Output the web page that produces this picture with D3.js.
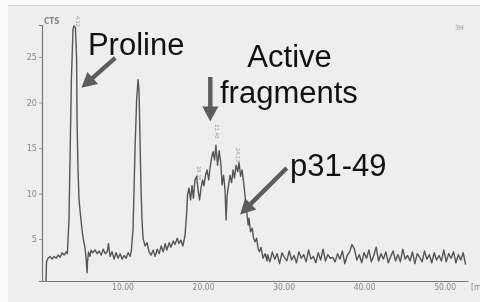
<!DOCTYPE html>
<html>
<head>
<meta charset="utf-8">
<script src="https://cdn.jsdelivr.net/npm/d3@7"></script>
<style>
  body { margin: 0; background: #fafafa; }
  svg { display: block; }
</style>
</head>
<body>
<div id="viz"><svg width="480" height="302"></svg></div>
<script>
// chromatogram trace: [time (min), counts]
const trace = [
  [0.5, 0.4], [0.56, 2.5], [0.75, 2.9], [1.0, 3.1], [1.25, 2.8], [1.5, 3.1], [1.75, 2.9],
  [2.0, 3.25], [2.25, 3.0], [2.5, 3.5], [2.75, 3.25], [3.0, 3.6], [3.15, 3.4],
  [3.35, 7.1], [3.5, 14.8], [3.65, 22.5], [3.85, 28.0], [3.97, 28.4], [4.15, 28.2],
  [4.3, 24.7], [4.35, 18.1], [4.47, 12.6], [4.6, 9.3], [4.78, 7.65], [4.97, 6.0],
  [5.15, 4.9], [5.35, 4.0], [5.47, 2.9], [5.6, 1.3], [5.65, 2.5], [5.78, 3.6],
  [5.96, 3.1], [6.1, 3.8], [6.3, 3.5], [6.6, 3.8], [6.85, 3.4], [7.1, 3.7], [7.35, 3.25],
  [7.6, 3.9], [7.85, 3.4], [8.1, 3.6], [8.25, 4.5], [8.45, 3.1], [8.7, 3.6], [8.95, 2.8],
  [9.2, 3.5], [9.45, 2.9], [9.7, 3.4], [9.95, 2.8], [10.2, 3.2], [10.45, 2.9], [10.7, 3.5],
  [10.95, 3.1], [11.1, 3.8], [11.3, 6.0], [11.43, 10.4], [11.55, 14.8], [11.75, 20.3],
  [11.93, 22.5], [12.05, 21.3], [12.17, 15.9], [12.3, 10.4], [12.42, 7.1], [12.55, 5.1],
  [12.8, 4.25], [13.05, 4.6], [13.3, 3.6], [13.55, 3.25], [13.8, 3.8], [14.05, 3.1],
  [14.3, 3.9], [14.55, 3.4], [14.8, 4.25], [15.05, 3.6], [15.3, 4.5], [15.5, 3.8],
  [15.8, 4.6], [16.0, 4.1], [16.3, 4.8], [16.5, 4.4], [16.8, 5.1], [17.0, 4.5],
  [17.25, 4.9], [17.5, 4.25], [17.75, 5.35], [17.95, 7.65], [18.07, 9.85], [18.25, 10.6],
  [18.45, 9.3], [18.63, 10.9], [18.8, 9.5], [19.0, 11.5], [19.2, 11.9], [19.38, 10.4],
  [19.57, 9.3], [19.75, 10.6], [19.94, 11.5], [20.1, 10.85], [20.3, 12.0], [20.5, 12.6],
  [20.7, 11.5], [20.87, 12.8], [21.05, 13.9], [21.24, 14.6], [21.43, 13.7], [21.6, 15.3],
  [21.8, 13.1], [22.0, 14.7], [22.2, 13.4], [22.36, 10.95], [22.55, 12.0], [22.73, 10.4],
  [22.86, 7.1], [22.98, 9.7], [23.17, 10.95], [23.35, 12.0], [23.54, 11.2], [23.73, 12.6],
  [23.9, 11.7], [24.1, 13.1], [24.3, 12.4], [24.47, 13.4], [24.66, 11.9], [24.84, 12.6],
  [25.03, 11.3], [25.2, 9.85], [25.4, 8.2], [25.6, 6.55], [25.7, 7.3], [25.9, 5.8],
  [26.1, 6.2], [26.27, 5.1], [26.46, 4.7], [26.65, 5.1], [26.83, 4.0], [27.0, 3.6],
  [27.2, 4.1], [27.45, 2.9], [27.7, 3.4], [27.95, 2.6],
  [28.0, 3.3], [28.3, 2.5], [28.6, 3.6], [28.9, 2.8], [29.2, 3.4], [29.5, 2.3], [29.8, 3.5],
  [30.1, 3.0], [30.4, 2.6], [30.7, 3.7], [31.0, 2.7], [31.3, 3.2], [31.6, 2.4], [31.9, 3.6],
  [32.2, 2.9], [32.5, 3.3], [32.8, 2.5], [33.1, 3.8], [33.4, 2.8], [33.7, 3.1], [34.0, 2.4],
  [34.3, 3.5], [34.6, 2.7], [34.9, 3.9], [35.2, 2.6], [35.5, 3.3], [35.8, 2.9], [36.1, 3.0],
  [36.4, 2.5], [36.7, 3.4], [37.0, 2.8], [37.3, 3.7], [37.6, 2.3], [37.9, 3.2], [38.2, 3.6],
  [38.5, 4.4], [38.8, 3.9], [39.1, 2.7], [39.4, 3.3], [39.7, 2.4], [40.0, 3.5], [40.3, 2.9],
  [40.6, 3.8], [40.9, 2.5], [41.2, 3.2], [41.5, 4.1], [41.8, 2.6], [42.1, 3.4], [42.4, 2.8],
  [42.7, 3.6], [43.0, 2.4], [43.3, 3.1], [43.6, 3.7], [43.9, 2.6], [44.2, 3.3], [44.5, 2.5],
  [44.8, 3.9], [45.1, 2.8], [45.4, 3.2], [45.7, 2.6], [46.0, 3.6], [46.3, 2.3], [46.6, 3.4],
  [46.9, 3.0], [47.2, 2.5], [47.5, 3.7], [47.8, 2.8], [48.1, 3.3], [48.4, 2.4], [48.7, 3.5],
  [49.0, 2.7], [49.3, 3.2], [49.6, 2.6], [49.9, 3.8], [50.2, 2.5], [50.5, 3.4], [50.8, 2.9],
  [51.1, 3.6], [51.4, 2.4], [51.7, 3.3], [52.0, 2.7], [52.3, 3.5], [52.6, 2.2]
]

const yTicks = [5, 10, 15, 20, 25]
const xTicks = [10, 20, 30, 40, 50]
const xTickLabels = ["10.00", "20.00", "30.00", "40.00", "50.00"]

// retention-time labels printed at the peaks: [time, cts at top of label, text]
const peakLabels = [[4.5, 29.5, "4.12"], [19.5, 13.0, "19.35"], [21.7, 17.6, "21.40"], [24.4, 15.0, "24.13"]]

// annotations: text lines [time, cts of baseline, text]
const notes = [[5.7, 25.2, "Proline"], [25.5, 23.9, "Active"], [22.1, 19.9, "fragments"], [30.8, 11.9, "p31-49"]]
// arrows: [from time, from cts, to time, to cts]
const arrows = [[9.1, 24.9, 4.9, 21.6], [20.9, 22.8, 20.9, 17.9], [30.4, 12.8, 24.6, 7.7]]

const svg = d3.select("#viz").select("svg")

svg.append("rect")
    .attr("x", 8).attr("y", 5)
    .attr("width", 472).attr("height", 297)
    .attr("fill", "#eeeeee")
svg.append("line")
    .attr("x1", 8).attr("x2", 480).attr("y1", 5.5).attr("y2", 5.5)
    .attr("stroke", "#d4d4d4")

const x = d3.scaleLinear().domain([0, 52.9]).range([42, 468])
const y = d3.scaleLinear().domain([0.4, 28.5]).range([281, 25])

const scan = svg.append("defs").append("filter").attr("id", "scan")
scan.append("feGaussianBlur").attr("stdDeviation", 0.4)

const chart = svg.append("g").attr("filter", "url(#scan)")

// axes
chart.append("g")
    .attr("transform", "translate(0," + y(0.4) + ")")
    .call(d3.axisBottom(x).tickValues(xTicks).tickSize(0).tickFormat((d, i) => xTickLabels[i]))
    .call(g => g.select(".domain").attr("stroke", "#777").attr("stroke-width", 1.2))
    .call(g => g.selectAll("text").attr("dy", 0).attr("y", 9)
        .attr("fill", "#888").attr("font-size", 8.5).attr("font-family", "DejaVu Sans Condensed, sans-serif"))

chart.append("g")
    .attr("transform", "translate(" + x(0) + ",0)")
    .call(d3.axisLeft(y).tickValues(yTicks).tickSize(3).tickPadding(2))
    .call(g => g.select(".domain").attr("stroke", "#777").attr("stroke-width", 1.2))
    .call(g => g.selectAll(".tick line").attr("stroke", "#999"))
    .call(g => g.selectAll("text").attr("fill", "#888").attr("font-size", 9)
        .attr("font-family", "DejaVu Sans Condensed, sans-serif"))

chart.append("text")
    .attr("x", x(0) + 2).attr("y", y(28.5) - 1)
    .attr("fill", "#888").attr("font-size", 8).attr("font-weight", "bold")
    .attr("font-family", "DejaVu Sans Condensed, sans-serif")
    .text("CTS")

chart.append("text")
    .attr("x", 455).attr("y", 30)
    .attr("fill", "#999").attr("font-size", 7)
    .attr("font-family", "DejaVu Sans Condensed, sans-serif")
    .text("3H")

chart.append("text")
    .attr("x", 471).attr("y", y(0.4) + 9)
    .attr("fill", "#888").attr("font-size", 8.5)
    .attr("font-family", "DejaVu Sans Condensed, sans-serif")
    .text("[m")

chart.selectAll("text.peak")
    .data(peakLabels)
    .enter()
    .append("text")
    .attr("class", "peak")
    .attr("transform", d => "translate(" + (x(d[0]) - 2) + "," + y(d[1]) + ") rotate(90)")
    .attr("fill", "#999").attr("font-size", 5.5)
    .attr("font-family", "DejaVu Sans Condensed, sans-serif")
    .text(d => d[2])

chart.append("path")
    .datum(trace)
    .attr("fill", "none")
    .attr("stroke", "#555")
    .attr("stroke-width", 1.4)
    .attr("stroke-linejoin", "round")
    .attr("d", d3.line().x(d => x(d[0])).y(d => y(d[1])))

// arrows drawn as polygons pointing to the peaks
function arrowPoints(a) {
    const x0 = x(a[0]), y0 = y(a[1]), x1 = x(a[2]), y1 = y(a[3])
    const len = Math.hypot(x1 - x0, y1 - y0)
    const ux = (x1 - x0) / len, uy = (y1 - y0) / len
    const px = -uy, py = ux
    const shaft = 2.2, head = 8, headLen = 15
    const bx = x1 - ux * headLen, by = y1 - uy * headLen
    return [
        [x0 + px * shaft, y0 + py * shaft],
        [bx + px * shaft, by + py * shaft],
        [bx + px * head, by + py * head],
        [x1, y1],
        [bx - px * head, by - py * head],
        [bx - px * shaft, by - py * shaft],
        [x0 - px * shaft, y0 - py * shaft]
    ].map(p => p.join(",")).join(" ")
}

svg.selectAll("polygon.arrow")
    .data(arrows)
    .enter()
    .append("polygon")
    .attr("class", "arrow")
    .attr("points", arrowPoints)
    .attr("fill", "#5c5c5c")

svg.selectAll("text.note")
    .data(notes)
    .enter()
    .append("text")
    .attr("class", "note")
    .attr("x", d => x(d[0]))
    .attr("y", d => y(d[1]))
    .attr("fill", "#111")
    .attr("font-size", 31)
    .attr("font-family", "Liberation Sans, Arial, sans-serif")
    .text(d => d[2])
</script>
</body>
</html>
